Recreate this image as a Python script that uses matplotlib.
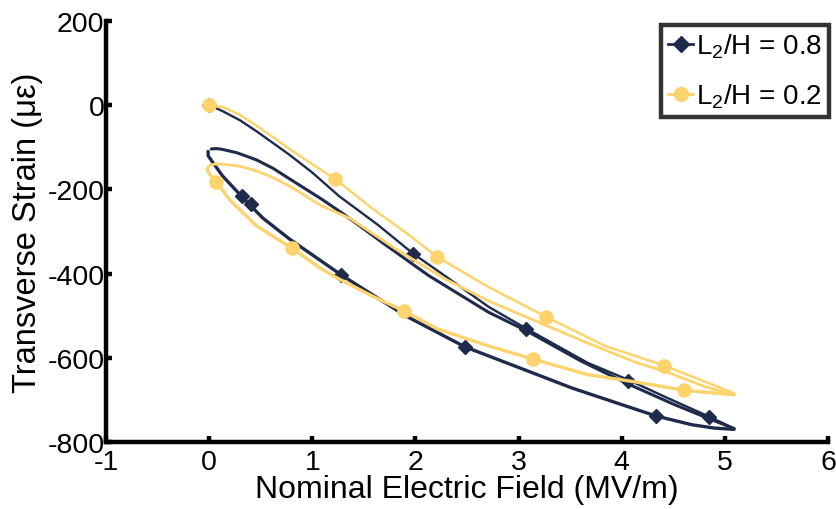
import matplotlib
matplotlib.use("Agg")
import matplotlib.pyplot as plt
from matplotlib.lines import Line2D

plt.rcParams['font.family'] = ['Liberation Sans', 'DejaVu Sans']
plt.rcParams['mathtext.fontset'] = 'custom'
plt.rcParams['mathtext.rm'] = 'Liberation Sans'
plt.rcParams['mathtext.it'] = 'Liberation Sans:italic'

NAVY = '#1F2B4B'
YELLOW = '#FDD36E'

# ---- L2/H = 0.8 (navy) branches ----
navy_a_x = [0, 0.13, 0.3, 0.46, 0.62, 0.78, 1.0, 1.26, 1.64, 1.98, 2.29, 2.71, 3.07, 3.67, 4.06, 4.44, 4.85, 5.09]
navy_a_y = [0, -14, -36, -62, -90, -118, -160, -216, -285, -353, -406, -479, -530, -612, -652, -695, -740, -768]
navy_c_x = [5.09, 4.9, 4.68, 4.33, 4.01, 3.52, 2.99, 2.48, 1.91, 1.28, 0.78, 0.52, 0.32, 0.13, 0.03, -0.01, -0.01]
navy_c_y = [-770, -767, -759, -738, -712, -672, -622, -574, -501, -403, -318, -268, -218, -168, -134, -120, -110]
navy_b_x = [0.02, 0.07, 0.13, 0.27, 0.46, 0.62, 0.78, 1.09, 1.3, 1.7, 2.13, 2.71, 3.07, 3.6, 4.06, 4.5, 4.85, 5.09]
navy_b_y = [-104, -103, -105, -113, -130, -150, -175, -223, -258, -330, -405, -492, -535, -607, -662, -710, -745, -768]
navy_mk_x = [0, 0.32, 0.41, 1.28, 2.48, 1.98, 3.07, 4.06, 4.33, 4.85]
navy_mk_y = [0, -216, -235, -403, -574, -353, -532, -655, -738, -741]

# ---- L2/H = 0.2 (yellow) branches ----
yel_u_x = [0, 0.13, 0.3, 0.46, 0.62, 0.78, 1.0, 1.22, 1.58, 1.91, 2.21, 2.71, 3.27, 3.84, 4.41, 4.80, 5.09]
yel_u_y = [0, -4, -23, -49, -76, -104, -140, -175, -245, -303, -360, -432, -503, -572, -618, -656, -684]
yel_l_x = [5.09, 4.60, 4.15, 3.67, 3.14, 2.71, 2.22, 1.89, 1.58, 1.26, 1.09, 0.80, 0.46, 0.2, 0.07, 0.01, -0.02]
yel_l_y = [-688, -677, -658, -640, -603, -572, -532, -489, -453, -413, -389, -339, -287, -225, -182, -166, -152]
yel_m_x = [-0.02, 0.0, 0.05, 0.13, 0.3, 0.46, 0.62, 0.78, 1.09, 1.36, 1.8, 2.29, 2.71, 3.67, 4.15, 4.44, 4.80, 5.09]
yel_m_y = [-152, -144, -140, -140, -145, -156, -172, -192, -239, -268, -340, -413, -465, -565, -612, -634, -668, -688]
yel_mk_x = [0, 0.07, 0.80, 1.89, 3.14, 4.60, 1.22, 2.21, 3.27, 4.41]
yel_mk_y = [0, -182, -339, -489, -603, -677, -175, -360, -503, -620]

labels = ['L$_2$/H = 0.8', 'L$_2$/H = 0.2']
xticks = [-1, 0, 1, 2, 3, 4, 5, 6]
yticks = [-800, -600, -400, -200, 0, 200]

fig = plt.figure(figsize=(8.37, 5.10), dpi=100)
ax = fig.add_axes([106/837, 1-443/510, (828-106)/837, (443-22)/510])

kw = dict(solid_joinstyle='round', solid_capstyle='round')
ax.plot(navy_a_x, navy_a_y, color=NAVY, lw=1.7, zorder=3, **kw)
ax.plot(navy_c_x, navy_c_y, color=NAVY, lw=2.4, zorder=3, **kw)
ax.plot(navy_b_x, navy_b_y, color=NAVY, lw=2.2, zorder=3, **kw)
ax.plot(navy_mk_x, navy_mk_y, ls='none', marker='D', ms=7, color=NAVY, zorder=3)
ax.plot(yel_u_x, yel_u_y, color=YELLOW, lw=1.8, zorder=4, **kw)
ax.plot(yel_l_x, yel_l_y, color=YELLOW, lw=2.4, zorder=4, **kw)
ax.plot(yel_m_x, yel_m_y, color=YELLOW, lw=2.0, zorder=4, **kw)
ax.plot(yel_mk_x, yel_mk_y, ls='none', marker='o', ms=9.5, color=YELLOW, zorder=4)

ax.set_xlim(-1, 6)
ax.set_ylim(-800, 200)
ax.set_xticks(xticks)
ax.set_yticks(yticks)
ax.set_xticklabels([str(v) for v in xticks])
ax.set_yticklabels([str(v) for v in yticks])
for s in ['top', 'right']:
    ax.spines[s].set_visible(False)
for s in ['left', 'bottom']:
    ax.spines[s].set_linewidth(3.2)
ax.tick_params(direction='in', length=4, width=3.2, labelsize=20.5)
ax.tick_params(axis='x', pad=5)
ax.tick_params(axis='y', pad=1)

ax.set_xlabel('Nominal Electric Field (MV/m)', fontsize=23)
ax.xaxis.set_label_coords(0.5, -0.077)
ax.set_ylabel('Transverse Strain (\u03bc\u03b5)', fontsize=23.5)
ax.yaxis.set_label_coords(-0.087, 0.5)

handles = [Line2D([], [], color=NAVY, lw=2, marker='D', ms=8.5),
           Line2D([], [], color=YELLOW, lw=2, marker='o', ms=10)]
leg = fig.legend(handles, labels, loc='upper right', bbox_to_anchor=(829/837, 1-26/510),
                 bbox_transform=fig.transFigure, fontsize=20, frameon=True, fancybox=False,
                 edgecolor='black', handlelength=0.9, handletextpad=0.1, borderpad=0.25,
                 labelspacing=0.75, borderaxespad=0)
leg.get_frame().set_linewidth(3.2)

fig.savefig('out.png', dpi=100)
